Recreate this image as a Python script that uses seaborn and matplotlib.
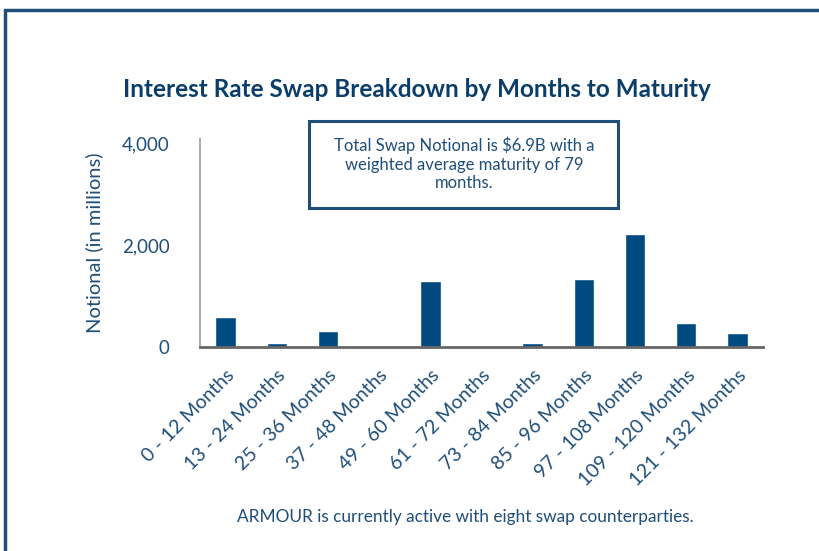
import matplotlib
matplotlib.use("Agg")
import matplotlib.pyplot as plt
import seaborn as sns
import pandas as pd
from matplotlib.patches import Rectangle

# Data (notional, $ millions)
buckets = ["0 - 12 Months", "13 - 24 Months", "25 - 36 Months", "37 - 48 Months",
           "49 - 60 Months", "61 - 72 Months", "73 - 84 Months", "85 - 96 Months",
           "97 - 108 Months", "109 - 120 Months", "121 - 132 Months"]
notional = [590, 85, 320, 0, 1290, 0, 85, 1330, 2220, 475, 280]
yticks = [0, 2000, 4000]

df = pd.DataFrame({"Bucket": buckets, "Notional": notional})

navy = "#004A7F"
text_blue = "#1F4E79"

sns.set_style("white")
plt.rcParams["font.family"] = ["Lato", "DejaVu Sans"]

fig = plt.figure(figsize=(8.19, 5.51), dpi=100)
ax = fig.add_axes([200 / 819, 1 - 347 / 551, 563 / 819, 208 / 551])

sns.barplot(data=df, x="Bucket", y="Notional", color=navy, width=0.4, ax=ax, saturation=1)

ax.set_ylim(0, 4078)
ax.set_yticks(yticks)
ax.set_yticklabels([f"{v:,}" for v in yticks], fontsize=13.5, color=text_blue)
ax.set_xticks(range(len(buckets)))
ax.set_xticklabels(buckets, rotation=45, ha="right", rotation_mode="anchor",
                   fontsize=14, color=text_blue)
ax.tick_params(axis="both", length=0)
ax.tick_params(axis="y", pad=22)
ax.tick_params(axis="x", pad=14)
ax.set_xlabel("")
ax.set_ylabel("Notional (in millions)", fontsize=14.5, color=text_blue, labelpad=13)
ax.set_xlim(-0.5, len(buckets) - 0.5)

sns.despine(ax=ax)
ax.spines["left"].set_color("#999999")
ax.spines["left"].set_linewidth(1.2)
ax.spines["bottom"].set_color("#666666")
ax.spines["bottom"].set_linewidth(2)

fig.text(0.509, 1 - 89 / 551, "Interest Rate Swap Breakdown by Months to Maturity",
         ha="center", va="center", fontsize=17.5, fontweight="bold", color="#0B3D6B")

fig.text(464 / 819, 1 - 164 / 551,
         "Total Swap Notional is $6.9B with a\nweighted average maturity of 79\nmonths.",
         ha="center", va="center", fontsize=12, color=text_blue, linespacing=1.2)
fig.patches.append(Rectangle((309 / 819, 1 - 208 / 551), 309 / 819, 87 / 551,
                             transform=fig.transFigure, fill=False,
                             edgecolor=text_blue, linewidth=2.2))

fig.text(465 / 819, 1 - 517 / 551, "ARMOUR is currently active with eight swap counterparties.",
         ha="center", va="center", fontsize=12.4, color=text_blue)

# outer frame, cut off at right and bottom
fig.patches.append(Rectangle((5 / 819, -0.1), 1.2, 1.1 - 10 / 551,
                             transform=fig.transFigure, fill=False,
                             edgecolor=text_blue, linewidth=2.5))

fig.savefig("out.png", dpi=100)
